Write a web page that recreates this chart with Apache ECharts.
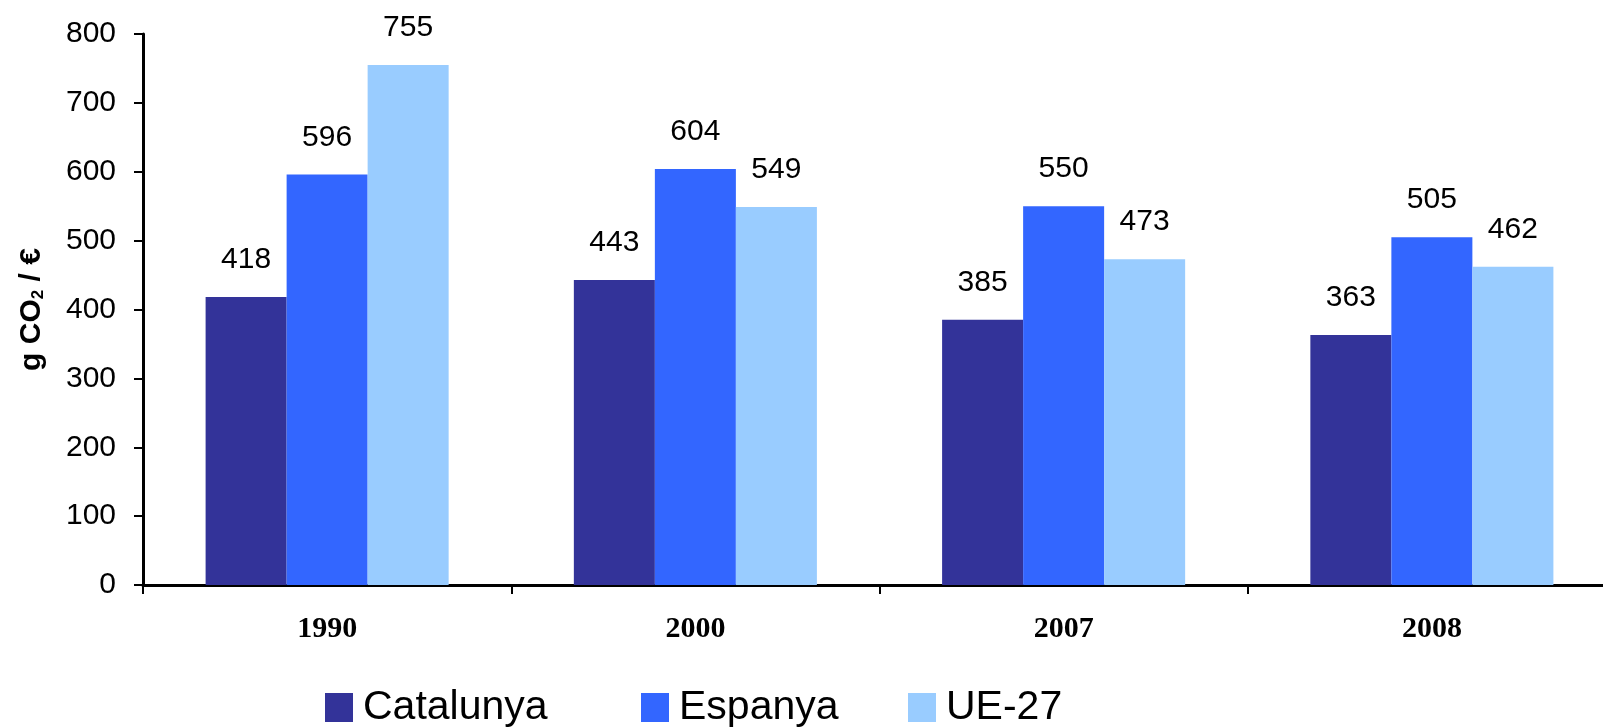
<!DOCTYPE html>
<html>
<head>
<meta charset="utf-8">
<script src="https://cdn.jsdelivr.net/npm/echarts@6/dist/echarts.min.js"></script>
<style>
html,body{margin:0;padding:0;background:#fff;}
#chart{width:1603px;height:727px;}
</style>
</head>
<body>
<div id="chart"></div>
<script>
const categories = ['1990', '2000', '2007', '2008'];
const catalunya = [418, 443, 385, 363];
const espanya = [596, 604, 550, 505];
const ue27 = [755, 549, 473, 462];
const seriesNames = ['Catalunya', 'Espanya', 'UE-27'];
const colors = ['#333399', '#3366FF', '#99CCFF'];

const chart = echarts.init(document.getElementById('chart'));

const labelStyle = {
  show: true,
  position: 'top',
  distance: 22,
  color: '#000',
  fontFamily: 'Liberation Sans',
  fontSize: 30
};

function makeLegend(name, left) {
  return {
    data: [name],
    left: left,
    top: 687,
    padding: 0,
    orient: 'horizontal',
    itemWidth: 28,
    itemHeight: 29,
    icon: 'rect',
    textStyle: {
      fontFamily: 'Liberation Sans',
      fontSize: 41,
      lineHeight: 40,
      color: '#000',
      padding: [0, 0, 0, 5]
    },
    selectedMode: false
  };
}

chart.setOption({
  animation: false,
  color: colors,
  grid: { left: 143, width: 1473, top: 34, bottom: 142, containLabel: false, outerBoundsMode: 'none' },
  legend: [
    makeLegend(seriesNames[0], 325),
    makeLegend(seriesNames[1], 641),
    makeLegend(seriesNames[2], 908)
  ],
  xAxis: {
    type: 'category',
    data: categories,
    axisLine: { lineStyle: { color: '#000', width: 3 } },
    axisTick: { show: true, length: 9, lineStyle: { color: '#000', width: 2 } },
    axisLabel: {
      color: '#000',
      fontFamily: 'Liberation Serif',
      fontWeight: 'bold',
      fontSize: 30,
      margin: 29
    },
    splitLine: { show: false }
  },
  yAxis: {
    type: 'value',
    min: 0,
    max: 800,
    interval: 100,
    name: '{a|g CO}{s|2}{a| / €}',
    nameLocation: 'middle',
    nameRotate: 90,
    nameGap: 96,
    nameTextStyle: {
      rich: {
        a: { fontFamily: 'Liberation Sans', fontWeight: 'bold', fontSize: 30, color: '#000' },
        s: { fontFamily: 'Liberation Sans', fontWeight: 'bold', fontSize: 17, color: '#000', verticalAlign: 'bottom', padding: [12, 0, 0, 0] }
      }
    },
    axisLine: { show: true, lineStyle: { color: '#000', width: 3 } },
    axisTick: { show: true, length: 9, lineStyle: { color: '#000', width: 2 } },
    axisLabel: {
      color: '#000',
      fontFamily: 'Liberation Sans',
      fontSize: 30,
      margin: 27
    },
    splitLine: { show: false }
  },
  series: [
    { name: seriesNames[0], type: 'bar', data: catalunya, barGap: '0%', barCategoryGap: '34%', label: labelStyle, itemStyle: { color: colors[0] } },
    { name: seriesNames[1], type: 'bar', data: espanya, barGap: '0%', barCategoryGap: '34%', label: labelStyle, itemStyle: { color: colors[1] } },
    { name: seriesNames[2], type: 'bar', data: ue27, barGap: '0%', barCategoryGap: '34%', label: labelStyle, itemStyle: { color: colors[2] } }
  ]
});
</script>
</body>
</html>
